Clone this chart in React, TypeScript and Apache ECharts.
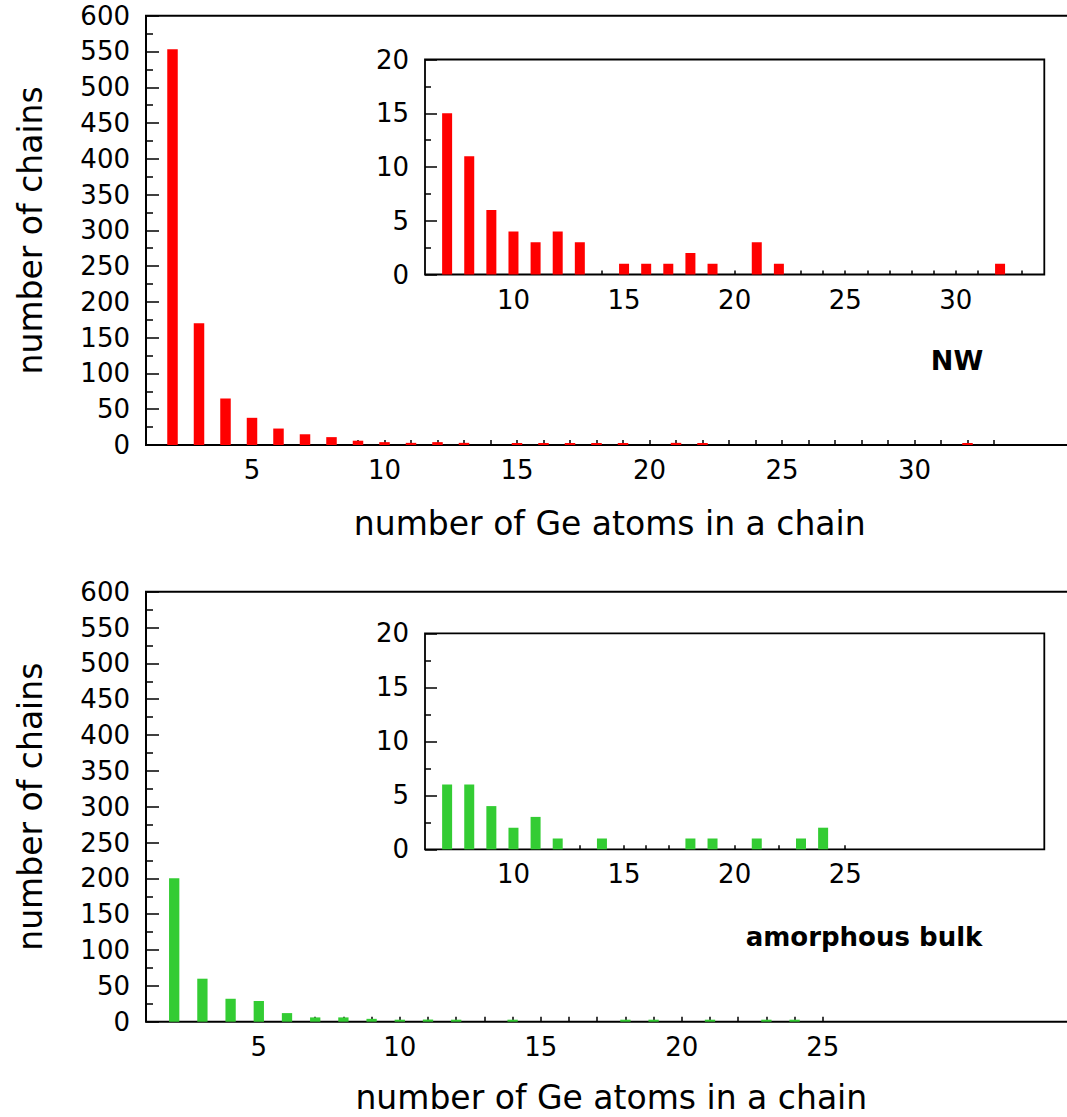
import { useEffect, useRef } from "react";
import * as echarts from "echarts";

// ---- data ----
const nwChainLengths = [2, 3, 4, 5, 6, 7, 8, 9, 10, 11, 12, 13, 15, 16, 17, 18, 19, 21, 22, 32];
const nwChainCounts = [553, 170, 65, 38, 23, 15, 11, 6, 4, 3, 4, 3, 1, 1, 1, 2, 1, 3, 1, 1];

const bulkChainLengths = [2, 3, 4, 5, 6, 7, 8, 9, 10, 11, 12, 14, 18, 19, 21, 23, 24];
const bulkChainCounts = [200, 60, 32, 29, 12, 6, 6, 4, 2, 3, 1, 1, 1, 1, 1, 1, 2];

const nwMainXLabels = [5, 10, 15, 20, 25, 30];
const nwInsetXLabels = [10, 15, 20, 25, 30];
const bulkMainXLabels = [5, 10, 15, 20, 25];
const bulkInsetXLabels = [10, 15, 20, 25];

const nwMainLastTick = 33;
const bulkMainLastTick = 25;
const nwInsetLastTick = 33;
const bulkInsetLastTick = 25;

const insetMinLength = 7;

const xTitle = "number of Ge atoms in a chain";
const yTitle = "number of chains";

const FONT = "DejaVu Sans";

function range(a: number, b: number) {
  const out: number[] = [];
  for (let i = a; i <= b; i++) out.push(i);
  return out;
}

function pairs(xs: number[], ys: number[], minX = -Infinity) {
  const out: [number, number][] = [];
  xs.forEach((x, i) => {
    if (x >= minX) out.push([x, ys[i]]);
  });
  return out;
}

const labelStyle = { fontFamily: FONT, fontSize: 26, color: "#000" };
const titleStyle = { fontFamily: FONT, fontSize: 33, color: "#000" };

function xAxisCfg(
  gridIndex: number,
  min: number,
  max: number,
  ticks: number[],
  labels: number[],
  tickLen: number,
  opts: any = {}
) {
  return {
    type: "value",
    gridIndex,
    min,
    max,
    interval: 1,
    axisLine: { show: false },
    splitLine: { show: false },
    axisTick: {
      show: true,
      inside: true,
      length: tickLen,
      customValues: ticks,
      lineStyle: { color: "#000", width: 1.5 },
    },
    axisLabel: {
      ...labelStyle,
      margin: 12,
      customValues: labels,
      formatter: (v: number) => (labels.indexOf(v) >= 0 ? String(v) : ""),
    },
    ...opts,
  };
}

function yAxisCfg(
  gridIndex: number,
  max: number,
  interval: number,
  major: number,
  minor: number,
  opts: any = {}
) {
  return {
    type: "value",
    gridIndex,
    min: 0,
    max,
    interval,
    axisLine: { show: false },
    splitLine: { show: false },
    axisTick: { show: true, inside: true, length: major, lineStyle: { color: "#000", width: 1.5 } },
    minorTick: { show: true, splitNumber: 2, length: minor, lineStyle: { color: "#000", width: 1.5 } },
    axisLabel: { ...labelStyle, margin: 16 },
    ...opts,
  };
}

export default function App() {
  const ref = useRef<HTMLDivElement>(null);

  useEffect(() => {
    if (!ref.current) return;
    const chart = echarts.init(ref.current, null, { renderer: "svg" });

    const gridBorder = { show: true, borderColor: "#000", borderWidth: 2, backgroundColor: "transparent" };

    chart.setOption({
      animation: false,
      backgroundColor: "#fff",
      grid: [
        { ...gridBorder, left: 146, top: 15.7, width: 35 * 26.5, height: 429.3 },
        { ...gridBorder, borderWidth: 1.8, left: 425, top: 59.5, width: 619.3, height: 215 },
        { ...gridBorder, left: 146, top: 591.7, width: 33 * 28.2, height: 430 },
        { ...gridBorder, borderWidth: 1.8, left: 425, top: 633.3, width: 619.3, height: 216 },
      ],
      xAxis: [
        xAxisCfg(0, 1, 36, range(2, nwMainLastTick), nwMainXLabels, 5, {
          name: xTitle,
          nameLocation: "middle",
          nameGap: 62,
          nameTextStyle: titleStyle,
        }),
        xAxisCfg(1, 6, 34, range(7, nwInsetLastTick), nwInsetXLabels, 4),
        xAxisCfg(2, 1, 34, range(2, bulkMainLastTick), bulkMainXLabels, 5, {
          name: xTitle,
          nameLocation: "middle",
          nameGap: 59,
          nameTextStyle: titleStyle,
        }),
        xAxisCfg(3, 6, 34, range(7, bulkInsetLastTick), bulkInsetXLabels, 4),
      ],
      yAxis: [
        yAxisCfg(0, 600, 50, 13, 7, {
          name: yTitle,
          nameLocation: "middle",
          nameGap: 99,
          nameTextStyle: titleStyle,
        }),
        yAxisCfg(1, 20, 5, 12, 6),
        yAxisCfg(2, 600, 50, 13, 7, {
          name: yTitle,
          nameLocation: "middle",
          nameGap: 99,
          nameTextStyle: titleStyle,
        }),
        yAxisCfg(3, 20, 5, 12, 6),
      ],
      series: [
        {
          type: "bar",
          xAxisIndex: 0,
          yAxisIndex: 0,
          barWidth: 10.5,
          barMinHeight: 2,
          itemStyle: { color: "#ff0000" },
          data: pairs(nwChainLengths, nwChainCounts),
        },
        {
          type: "bar",
          xAxisIndex: 1,
          yAxisIndex: 1,
          barWidth: 10,
          itemStyle: { color: "#ff0000" },
          data: pairs(nwChainLengths, nwChainCounts, insetMinLength),
        },
        {
          type: "bar",
          xAxisIndex: 2,
          yAxisIndex: 2,
          barWidth: 10.3,
          barMinHeight: 2,
          itemStyle: { color: "#33cc33" },
          data: pairs(bulkChainLengths, bulkChainCounts),
        },
        {
          type: "bar",
          xAxisIndex: 3,
          yAxisIndex: 3,
          barWidth: 10,
          itemStyle: { color: "#33cc33" },
          data: pairs(bulkChainLengths, bulkChainCounts, insetMinLength),
        },
      ],
      graphic: [
        {
          type: "text",
          x: 957,
          y: 360,
          style: {
            text: "NW",
            align: "center",
            verticalAlign: "middle",
            fontFamily: FONT,
            fontWeight: "bold",
            fontSize: 27,
            fill: "#000",
          },
        },
        {
          type: "text",
          x: 864,
          y: 937,
          style: {
            text: "amorphous bulk",
            align: "center",
            verticalAlign: "middle",
            fontFamily: FONT,
            fontWeight: "bold",
            fontSize: 26,
            fill: "#000",
          },
        },
      ],
    });

    return () => chart.dispose();
  }, []);

  return (
    <div
      style={{
        position: "absolute",
        left: 0,
        top: 0,
        width: 1067,
        height: 1117,
        overflow: "hidden",
      }}
    >
      <div ref={ref} style={{ position: "absolute", left: 0, top: 0, width: 1120, height: 1117 }} />
    </div>
  );
}
